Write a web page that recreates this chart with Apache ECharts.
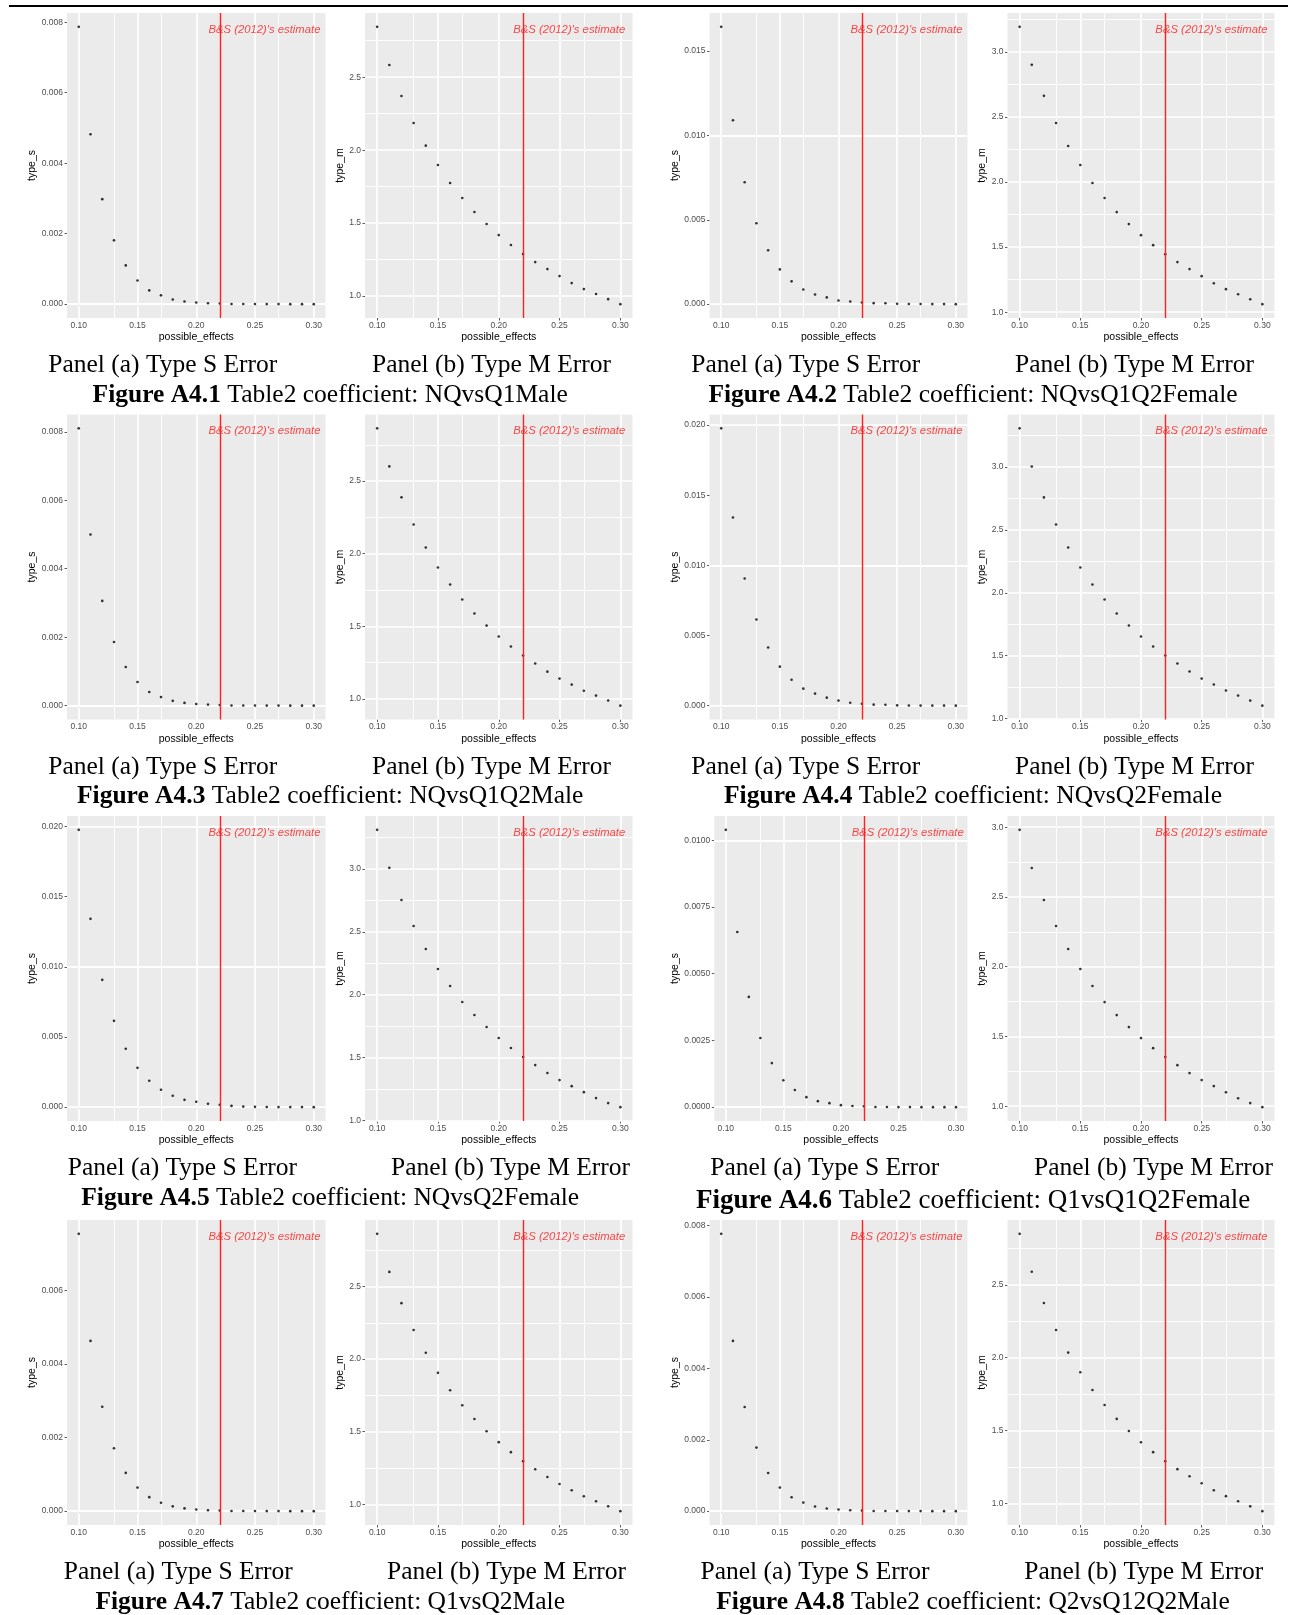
<!DOCTYPE html>
<html><head><meta charset="utf-8">
<script src="https://cdn.jsdelivr.net/npm/echarts@6/dist/echarts.min.js"></script>
<style>html,body{margin:0;padding:0;background:#fff}#c{width:1290px;height:1615px}</style>
</head><body><div id="c"></div>
<script>
// ---------------- DATA ----------------
const possibleEffects = [0.10,0.11,0.12,0.13,0.14,0.15,0.16,0.17,0.18,0.19,0.20,0.21,0.22,0.23,0.24,0.25,0.26,0.27,0.28,0.29,0.30];
const xTicks = [0.10,0.15,0.20,0.25,0.30];
const xTickLabels = ['0.10','0.15','0.20','0.25','0.30'];
const estimateLine = 0.2225;
const estimateLabel = "B&S (2012)'s estimate";
const estimateLabelX = 0.258;

const figureNames = ['A4.1','A4.2','A4.3','A4.4','A4.5','A4.6','A4.7','A4.8'];
const coefficients = ['NQvsQ1Male','NQvsQ1Q2Female','NQvsQ1Q2Male','NQvsQ2Female','NQvsQ2Female','Q1vsQ1Q2Female','Q1vsQ2Male','Q2vsQ12Q2Male'];
const panelCaptionS = 'Panel (a) Type S Error';
const panelCaptionM = 'Panel (b) Type M Error';

const typeS_A41 = [0.00787,0.00482,0.00298,0.00181,0.00110,0.00067,0.00039,0.00025,0.00013,0.000076,0.000047,0.000025,0.000020,0.000006,0.000004,0.000002,0.000001,0.0000005,0.0000003,0.0000002,0.0000001];
const typeM_A41 = [2.845,2.584,2.371,2.186,2.031,1.898,1.775,1.672,1.576,1.494,1.418,1.350,1.288,1.233,1.185,1.137,1.089,1.048,1.014,0.979,0.945];
const typeS_A42 = [0.01643,0.01090,0.00722,0.00479,0.00319,0.00206,0.00135,0.00087,0.00057,0.00040,0.00022,0.00016,0.00010,0.00006,0.00005,0.00002,0.00001,0.000006,0.000003,0.000002,0.000001];
const typeM_A42 = [3.192,2.900,2.662,2.454,2.277,2.131,1.992,1.877,1.769,1.677,1.592,1.515,1.446,1.385,1.331,1.277,1.223,1.177,1.138,1.100,1.062];
const typeS_A43 = [0.00810,0.00500,0.00306,0.00186,0.00113,0.00069,0.00040,0.00025,0.00014,0.00008,0.00005,0.00003,0.00002,0.000006,0.000004,0.000002,0.000001,0.0000005,0.0000003,0.0000002,0.0000001];
const typeM_A43 = [2.863,2.601,2.388,2.201,2.043,1.905,1.788,1.685,1.588,1.505,1.430,1.361,1.299,1.244,1.188,1.140,1.099,1.057,1.023,0.989,0.954];
const typeS_A44 = [0.01976,0.01341,0.00906,0.00614,0.00414,0.00278,0.00185,0.00121,0.00086,0.00057,0.00036,0.00021,0.00014,0.00007,0.00006,0.00002,0.00001,0.000005,0.000003,0.000002,0.000001];
const typeM_A44 = [3.308,3.005,2.759,2.544,2.361,2.202,2.066,1.947,1.836,1.740,1.653,1.573,1.501,1.438,1.374,1.318,1.271,1.223,1.183,1.143,1.103];
const typeS_A45 = [0.01976,0.01342,0.00907,0.00615,0.00416,0.00280,0.00188,0.00124,0.00081,0.00052,0.00038,0.00024,0.00017,0.00009,0.00004,0.00002,0.00001,0.000005,0.000003,0.000002,0.000001];
const typeM_A45 = [3.310,3.008,2.753,2.546,2.363,2.204,2.069,1.942,1.838,1.743,1.655,1.576,1.504,1.440,1.377,1.321,1.273,1.225,1.178,1.138,1.106];
const typeS_A46 = [0.01039,0.00656,0.00413,0.00259,0.00165,0.00101,0.00064,0.000375,0.000225,0.00015,0.000075,0.00004,0.000035,0.000005,0.000003,0.000002,0.000001,0.0000005,0.0000003,0.0000002,0.0000001];
const typeM_A46 = [2.981,2.708,2.478,2.292,2.127,1.983,1.861,1.746,1.653,1.567,1.488,1.416,1.352,1.294,1.237,1.187,1.144,1.100,1.057,1.022,0.993];
const typeS_A47 = [0.00754,0.00463,0.00284,0.00171,0.00104,0.00064,0.00038,0.00023,0.00013,0.000075,0.000045,0.000025,0.000015,0.000005,0.000003,0.000002,0.000001,0.0000005,0.0000003,0.0000002,0.0000001];
const typeM_A47 = [2.862,2.600,2.385,2.200,2.043,1.905,1.785,1.682,1.587,1.503,1.428,1.359,1.297,1.241,1.188,1.140,1.097,1.056,1.021,0.987,0.953];
const typeS_A48 = [0.00777,0.00477,0.00292,0.00178,0.00107,0.00066,0.00039,0.00024,0.00013,0.000075,0.000045,0.000025,0.000015,0.000005,0.000003,0.000002,0.000001,0.0000005,0.0000003,0.0000002,0.0000001];
const typeM_A48 = [2.850,2.590,2.375,2.190,2.035,1.900,1.778,1.675,1.580,1.497,1.420,1.352,1.290,1.235,1.186,1.138,1.090,1.050,1.015,0.980,0.947];

// y tick values and labels
const yTicksS008 = [0,0.002,0.004,0.006,0.008];
const yLabelsS008 = ['0.000','0.002','0.004','0.006','0.008'];
const yTicksS006 = [0,0.002,0.004,0.006];
const yLabelsS006 = ['0.000','0.002','0.004','0.006'];
const yTicksS015 = [0,0.005,0.010,0.015];
const yLabelsS015 = ['0.000','0.005','0.010','0.015'];
const yTicksS020 = [0,0.005,0.010,0.015,0.020];
const yLabelsS020 = ['0.000','0.005','0.010','0.015','0.020'];
const yTicksS0100 = [0,0.0025,0.0050,0.0075,0.0100];
const yLabelsS0100 = ['0.0000','0.0025','0.0050','0.0075','0.0100'];
const yTicksM25 = [1.0,1.5,2.0,2.5];
const yLabelsM25 = ['1.0','1.5','2.0','2.5'];
const yTicksM30 = [1.0,1.5,2.0,2.5,3.0];
const yLabelsM30 = ['1.0','1.5','2.0','2.5','3.0'];

// ---------------- PANELS ----------------
const panels = [
  {v:typeS_A41, t:yTicksS008, l:yLabelsS008, name:'type_s'},
  {v:typeM_A41, t:yTicksM25, l:yLabelsM25, name:'type_m'},
  {v:typeS_A42, t:yTicksS015, l:yLabelsS015, name:'type_s'},
  {v:typeM_A42, t:yTicksM30, l:yLabelsM30, name:'type_m'},
  {v:typeS_A43, t:yTicksS008, l:yLabelsS008, name:'type_s'},
  {v:typeM_A43, t:yTicksM25, l:yLabelsM25, name:'type_m'},
  {v:typeS_A44, t:yTicksS020, l:yLabelsS020, name:'type_s'},
  {v:typeM_A44, t:yTicksM30, l:yLabelsM30, name:'type_m'},
  {v:typeS_A45, t:yTicksS020, l:yLabelsS020, name:'type_s'},
  {v:typeM_A45, t:yTicksM30, l:yLabelsM30, name:'type_m'},
  {v:typeS_A46, t:yTicksS0100, l:yLabelsS0100, name:'type_s'},
  {v:typeM_A46, t:yTicksM30, l:yLabelsM30, name:'type_m'},
  {v:typeS_A47, t:yTicksS006, l:yLabelsS006, name:'type_s'},
  {v:typeM_A47, t:yTicksM25, l:yLabelsM25, name:'type_m'},
  {v:typeS_A48, t:yTicksS008, l:yLabelsS008, name:'type_s'},
  {v:typeM_A48, t:yTicksM25, l:yLabelsM25, name:'type_m'}
];

const SANS = "'Liberation Sans', Arial, Helvetica, sans-serif";
const SERIF = "'Liberation Serif', 'Times New Roman', serif";
const colLeft = [67, 365, 709.5, 1007.5];
const colRight = [325.5, 632.5, 967.5, 1274.5];
const rowTops = [13, 414.5, 816, 1220];
const plotH = 305;

function lookupLabel(ticks, labels, v) {
  let best = 0, d = Infinity;
  ticks.forEach((t, k) => { const dd = Math.abs(t - v); if (dd < d) { d = dd; best = k; } });
  return labels[best];
}

const option = {animation:false, grid:[], xAxis:[], yAxis:[], series:[], graphic:[]};

panels.forEach((p, i) => {
  const row = Math.floor(i / 4), col = i % 4;
  const top = rowTops[row];
  const fourDec = p.l[0].length > 5;
  const left = (fourDec ? colLeft[col] + 4.8 : colLeft[col]);
  option.grid.push({left:left, top:top, width:colRight[col] - left, height:plotH, show:true,
    backgroundColor:'#EBEBEB', borderWidth:0});
  const vmin = Math.min(...p.v), vmax = Math.max(...p.v);
  const pad = (vmax - vmin) * 0.05;
  const ymin = vmin - pad, ymax = vmax + pad;
  const isS = p.name === 'type_s';
  option.xAxis.push({type:'value', gridIndex:i, min:0.09, max:0.31,
    axisLine:{show:false},
    axisTick:{show:true, customValues:xTicks, length:2.5, lineStyle:{color:'#333', width:0.8}},
    axisLabel:{show:true, customValues:xTicks, formatter:(v)=>lookupLabel(xTicks, xTickLabels, v),
      fontSize:8.5, color:'#4D4D4D', margin:3, fontFamily:SANS},
    splitLine:{show:false},
    name:'possible_effects', nameLocation:'middle', nameGap:14,
    nameTextStyle:{fontSize:10.5, color:'#000', fontFamily:SANS}});
  option.yAxis.push({type:'value', gridIndex:i, min:ymin, max:ymax,
    axisLine:{show:false},
    axisTick:{show:true, customValues:p.t, length:2.5, lineStyle:{color:'#333', width:0.8}},
    axisLabel:{show:true, customValues:p.t, formatter:(v)=>lookupLabel(p.t, p.l, v),
      fontSize:8.5, color:'#4D4D4D', margin:4, fontFamily:SANS},
    splitLine:{show:false},
    name:p.name, nameLocation:'middle', nameRotate:90,
    nameGap: isS ? (fourDec ? 33 : 27.5) : 16.5,
    nameTextStyle:{fontSize:10.5, color:'#000', fontFamily:SANS}});

  // gridlines (major at ticks, minor midway)
  const step = p.t[1] - p.t[0];
  const minorY = [];
  for (let m = p.t[0] - step / 2; m <= ymax; m += step) { if (m >= ymin) minorY.push(m); }
  const xStep = xTicks[1] - xTicks[0];
  const minorX = [];
  for (let m = xTicks[0] - xStep / 2; m <= 0.31; m += xStep) { if (m >= 0.09) minorX.push(m); }
  const gl = [];
  xTicks.forEach(v => gl.push({xAxis:v, lineStyle:{width:1.7}}));
  minorX.forEach(v => gl.push({xAxis:v, lineStyle:{width:0.9}}));
  p.t.forEach(v => gl.push({yAxis:v, lineStyle:{width:1.7}}));
  minorY.forEach(v => gl.push({yAxis:v, lineStyle:{width:0.9}}));

  // annotation text + gridlines
  option.series.push({type:'scatter', xAxisIndex:i, yAxisIndex:i, z:6, silent:true,
    data:[[estimateLabelX, vmax]], symbolSize:0.1, itemStyle:{color:'rgba(0,0,0,0)'},
    label:{show:true, position:'inside', offset:[0, 2.5], formatter:estimateLabel, color:'#FF1A1A',
      fontStyle:'italic', fontSize:11.3, fontFamily:SANS},
    markLine:{silent:true, z:1, symbol:['none','none'], label:{show:false}, animation:false,
      lineStyle:{color:'#FFFFFF', type:'solid'}, emphasis:{disabled:true}, data:gl}});
  // data points + red estimate line
  option.series.push({type:'scatter', xAxisIndex:i, yAxisIndex:i, z:3, silent:true,
    data:possibleEffects.map((x, k) => [x, p.v[k]]), symbolSize:2.6, itemStyle:{color:'#000'},
    markLine:{silent:true, z:4, symbol:['none','none'], label:{show:false}, animation:false,
      lineStyle:{color:'#FF2020', width:1.4, type:'solid'}, emphasis:{disabled:true},
      data:[{xAxis:estimateLine}]}});
});

// ---------------- CAPTIONS ----------------
const panelCapX = [[162.8,491.5,805.8,1134.5],[162.8,491.5,805.8,1134.5],[182.4,510.6,824.8,1153.5],[178.3,506.5,815,1143.8]];
const panelCapY = [365.7, 767.6, 1168.4, 1572];
const figCapY = [[395.6,395.6],[796.5,796.5],[1198,1201],[1602,1602]];
const figCapX = [330.2, 973];

option.graphic.push({type:'line', shape:{x1:9, y1:6, x2:1288, y2:6}, style:{stroke:'#000', lineWidth:2}, silent:true});
for (let r = 0; r < 4; r++) {
  for (let c = 0; c < 4; c++) {
    option.graphic.push({type:'text', x:panelCapX[r][c], y:panelCapY[r], silent:true,
      style:{text:(c % 2 === 0 ? panelCaptionS : panelCaptionM), fill:'#000',
        fontSize:25.5, fontFamily:SERIF, align:'center', verticalAlign:'middle'}});
  }
  for (let h = 0; h < 2; h++) {
    const f = r * 2 + h;
    const fs = (f === 5 ? 27 : 25.5);
    option.graphic.push({type:'text', x:figCapX[h], y:figCapY[r][h], silent:true,
      style:{text:'{b|Figure ' + figureNames[f] + '}{n| Table2 coefficient: ' + coefficients[f] + '}',
        fill:'#000', fontSize:fs, fontFamily:SERIF, align:'center', verticalAlign:'middle',
        rich:{b:{fontWeight:'bold', fontSize:fs, fontFamily:SERIF, fill:'#000'},
              n:{fontWeight:'normal', fontSize:fs, fontFamily:SERIF, fill:'#000'}}}});
  }
}

const chart = echarts.init(document.getElementById('c'), null, {renderer:'canvas', width:1290, height:1615});
chart.setOption(option);
</script>
</body></html>
